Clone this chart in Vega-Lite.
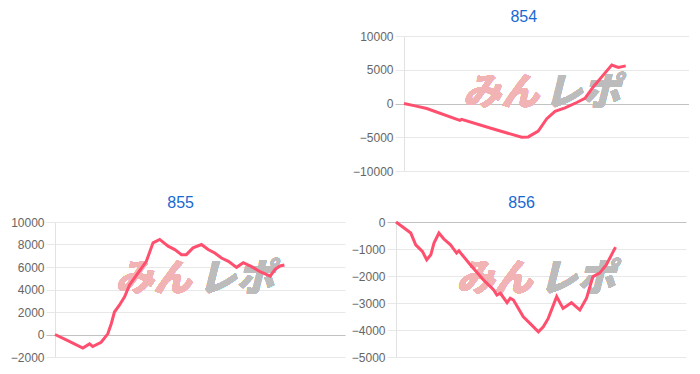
{
  "$schema": "https://vega.github.io/schema/vega-lite/v6.json",
  "padding": {"left": 10, "top": 9, "right": 0, "bottom": 0},
  "background": "white",
  "datasets": {
    "d854": [
      {"g": 0, "v": 0}, {"g": 3.9, "v": -350}, {"g": 8.0, "v": -750}, {"g": 19.6, "v": -2500},
      {"g": 20.2, "v": -2350}, {"g": 30.8, "v": -3700}, {"g": 41.3, "v": -5000}, {"g": 43.6, "v": -4950},
      {"g": 47.1, "v": -4100}, {"g": 50.1, "v": -2250}, {"g": 53.0, "v": -1150}, {"g": 56.5, "v": -650},
      {"g": 60.6, "v": 150}, {"g": 63.5, "v": 750}, {"g": 66.4, "v": 2450}, {"g": 69.9, "v": 4200},
      {"g": 72.9, "v": 5700}, {"g": 75.2, "v": 5330}, {"g": 77.8, "v": 5570}
    ],
    "d855": [
      {"g": 0, "v": 0}, {"g": 4.4, "v": -540}, {"g": 9.6, "v": -1200}, {"g": 11.9, "v": -840},
      {"g": 13.0, "v": -1070}, {"g": 15.9, "v": -690}, {"g": 18.2, "v": 60}, {"g": 19.4, "v": 960},
      {"g": 20.5, "v": 2000}, {"g": 22.2, "v": 2600}, {"g": 24.0, "v": 3350}, {"g": 25.7, "v": 4400},
      {"g": 28.6, "v": 5450}, {"g": 31.5, "v": 6500}, {"g": 33.8, "v": 8150}, {"g": 36.1, "v": 8450},
      {"g": 39.0, "v": 7850}, {"g": 41.3, "v": 7550}, {"g": 43.6, "v": 7100}, {"g": 45.3, "v": 7100},
      {"g": 47.6, "v": 7700}, {"g": 50.5, "v": 8000}, {"g": 52.8, "v": 7550}, {"g": 55.1, "v": 7250},
      {"g": 57.4, "v": 6800}, {"g": 59.8, "v": 6500}, {"g": 62.6, "v": 5970}, {"g": 64.9, "v": 6380},
      {"g": 67.8, "v": 6030}, {"g": 70.7, "v": 5580}, {"g": 74.2, "v": 5190}, {"g": 75.9, "v": 5790},
      {"g": 77.6, "v": 6090}, {"g": 79.1, "v": 6180}
    ],
    "d856": [
      {"g": 0, "v": 0}, {"g": 2.8, "v": -223}, {"g": 5.1, "v": -410}, {"g": 6.8, "v": -845},
      {"g": 9.1, "v": -1090}, {"g": 10.6, "v": -1400}, {"g": 12.0, "v": -1215}, {"g": 13.1, "v": -780},
      {"g": 14.8, "v": -410}, {"g": 16.5, "v": -630}, {"g": 18.8, "v": -845}, {"g": 20.9, "v": -1150},
      {"g": 21.7, "v": -1065}, {"g": 22.8, "v": -1215}, {"g": 25.7, "v": -1590}, {"g": 30.2, "v": -2150},
      {"g": 33.7, "v": -2520}, {"g": 34.8, "v": -2705}, {"g": 36.0, "v": -2640}, {"g": 38.3, "v": -2990},
      {"g": 39.4, "v": -2825}, {"g": 40.5, "v": -2890}, {"g": 43.9, "v": -3510}, {"g": 46.2, "v": -3755},
      {"g": 49.1, "v": -4070}, {"g": 50.8, "v": -3880}, {"g": 52.5, "v": -3570}, {"g": 55.4, "v": -2765},
      {"g": 57.6, "v": -3200}, {"g": 60.5, "v": -2990}, {"g": 63.4, "v": -3260}, {"g": 65.7, "v": -2825},
      {"g": 67.9, "v": -2020}, {"g": 70.2, "v": -1895}, {"g": 72.5, "v": -1590}, {"g": 75.7, "v": -930}
    ]
  },
  "config": {
    "view": {"stroke": null},
    "axisY": {
      "title": null,
      "format": "d",
      "labelFont": "Liberation Sans",
      "labelFontSize": 12,
      "labelColor": "#666666",
      "tickSize": 9,
      "labelPadding": 2,
      "domainColor": "#e2e2e2",
      "grid": true
    },
    "title": {
      "frame": "bounds",
      "anchor": "middle",
      "fontSize": 16,
      "fontWeight": "normal",
      "font": "Liberation Sans",
      "color": "#1769d2",
      "offset": 5,
      "dx": 3
    },
    "text": {"font": "Noto Sans CJK JP", "fontWeight": 900, "fontStyle": "italic", "fontSize": 38}
  },
  "vconcat": [
    {
      "hconcat": [
        {
          "width": 285,
          "height": 135,
          "data": {"values": [{}]},
          "mark": {"type": "point", "opacity": 0},
          "encoding": {}
        },
        {
          "title": "854",
          "width": 285,
          "height": 135,
          "data": {"name": "d854"},
          "encoding": {
            "x": {"field": "g", "type": "quantitative", "scale": {"domain": [0, 100]}, "axis": null},
            "y": {"field": "v", "type": "quantitative", "scale": {"domain": [-10000, 10000]},
              "axis": {"values": [-10000, -5000, 0, 5000, 10000],
                "gridColor": {"condition": {"test": "datum.value === 0", "value": "#c2c2c2"}, "value": "#e8e8e8"},
                "tickColor": {"condition": {"test": "datum.value === 0", "value": "#c2c2c2"}, "value": "#e8e8e8"}}}
          },
          "layer": [
            {"mark": {"type": "text", "text": "みん", "color": "#f1b3b3"}, "encoding": {"x": {"datum": 34}, "y": {"datum": 1400}}},
            {"mark": {"type": "text", "text": "レポ", "color": "#bcbcbc"}, "encoding": {"x": {"datum": 62.5}, "y": {"datum": 1400}}},
            {"mark": {"type": "line", "color": "#ff4f6e", "strokeWidth": 3}}
          ]
        }
      ],
      "spacing": 12
    },
    {
      "hconcat": [
        {
          "title": "855",
          "width": 290,
          "height": 135,
          "data": {"name": "d855"},
          "encoding": {
            "x": {"field": "g", "type": "quantitative", "scale": {"domain": [0, 100]}, "axis": null},
            "y": {"field": "v", "type": "quantitative", "scale": {"domain": [-2000, 10000]},
              "axis": {"values": [-2000, 0, 2000, 4000, 6000, 8000, 10000],
                "gridColor": {"condition": {"test": "datum.value === 0", "value": "#c2c2c2"}, "value": "#e8e8e8"},
                "tickColor": {"condition": {"test": "datum.value === 0", "value": "#c2c2c2"}, "value": "#e8e8e8"}}}
          },
          "layer": [
            {"mark": {"type": "text", "text": "みん", "color": "#f1b3b3"}, "encoding": {"x": {"datum": 34}, "y": {"datum": 4840}}},
            {"mark": {"type": "text", "text": "レポ", "color": "#bcbcbc"}, "encoding": {"x": {"datum": 62.5}, "y": {"datum": 4840}}},
            {"mark": {"type": "line", "color": "#ff4f6e", "strokeWidth": 3}}
          ]
        },
        {
          "title": "856",
          "width": 290,
          "height": 135,
          "data": {"name": "d856"},
          "encoding": {
            "x": {"field": "g", "type": "quantitative", "scale": {"domain": [0, 100]}, "axis": null},
            "y": {"field": "v", "type": "quantitative", "scale": {"domain": [-5000, 0]},
              "axis": {"values": [-5000, -4000, -3000, -2000, -1000, 0],
                "gridColor": {"condition": {"test": "datum.value === 0", "value": "#c2c2c2"}, "value": "#e8e8e8"},
                "tickColor": {"condition": {"test": "datum.value === 0", "value": "#c2c2c2"}, "value": "#e8e8e8"}}}
          },
          "layer": [
            {"mark": {"type": "text", "text": "みん", "color": "#f1b3b3"}, "encoding": {"x": {"datum": 34}, "y": {"datum": -2150}}},
            {"mark": {"type": "text", "text": "レポ", "color": "#bcbcbc"}, "encoding": {"x": {"datum": 62.5}, "y": {"datum": -2150}}},
            {"mark": {"type": "line", "color": "#ff4f6e", "strokeWidth": 3}}
          ]
        }
      ],
      "spacing": 6
    }
  ],
  "spacing": 18
}
